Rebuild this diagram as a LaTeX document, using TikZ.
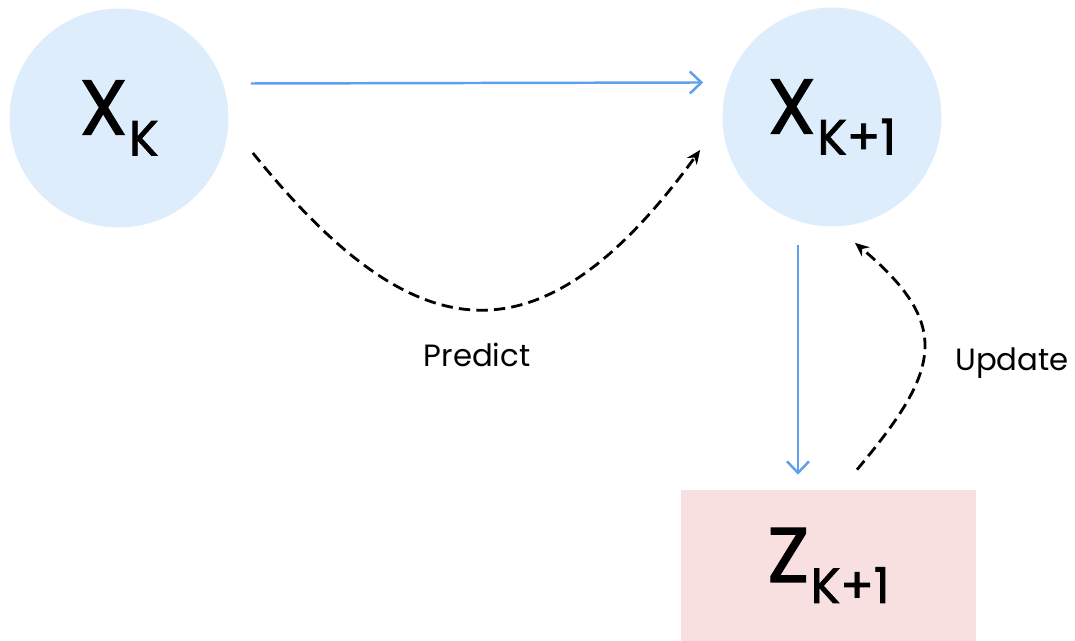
\documentclass[tikz,border=0pt]{standalone}
\usepackage{fontspec}
\setmainfont{Poppins}
\usepackage{xcolor}
\usepackage{tikz}
\usetikzlibrary{arrows.meta}
\definecolor{statefill}{RGB}{222,237,252}
\definecolor{measfill}{RGB}{248,223,224}
\definecolor{flowblue}{RGB}{92,160,238}
\tikzstyle{state}=[circle, fill=statefill,% light blue disc, no border
minimum size=4.38cm,inner sep=0pt]
\tikzstyle{meas}=[rectangle, fill=measfill,% pink box
minimum width=5.9cm,minimum height=3.02cm,inner sep=0pt]
\tikzstyle{flow}=[-{Straight Barb[length=2.3mm,width=4.4mm]}, draw=flowblue, line width=1.4pt]
\tikzstyle{pred}=[-{Stealth[length=2.8mm,width=2.4mm]}, line width=1.6pt, dash pattern=on 6.5pt off 3.5pt]
\newcommand{\bigsym}[2]{{\addfontfeature{FakeBold=1.6}\fontsize{44}{44}\selectfont #1\kern0.02em\raisebox{-0.42cm}{\fontsize{28}{28}\selectfont #2}}}
\newcommand{\smalltxt}{\fontsize{17.5}{17.5}\selectfont}

\begin{document}
\begin{tikzpicture}

\useasboundingbox (0,0) rectangle (21.5,12.82);

\node[state] (xk) at (2.38,10.46) {\bigsym{X}{K}};
\node[state] (xk1) at (16.64,10.48) {\bigsym{X}{K+1}};
\node[meas] (zk1) at (16.57,1.51) {\bigsym{Z}{K+1}};

\node (pr) at (9.54,5.72) {\smalltxt Predict};
\node (up) at (20.24,5.56) {\smalltxt Update};

\draw [flow]  ([shift={(0.44,0.69)}]xk.east) -- ([shift={(-0.38,0.69)}]xk1.west);
\draw [flow]  ([shift={(-0.68,-0.36)}]xk1.south) -- ([shift={(-0.61,0.3)}]zk1.north);

%\draw [pred]  (xk) to[bend right] (xk1);
\draw [pred]  ([shift={(0.48,-0.7)}]xk.east) to[out=-51,in=-126,out looseness=1.4,in looseness=1.62] ([shift={(-0.44,-0.66)}]xk1.west);
\draw [pred]  ([shift={(0.57,0.4)}]zk1.north) to[out=50,in=-40,looseness=1.45] ([shift={(0.46,-0.32)}]xk1.south);

\end{tikzpicture}
\end{document}
